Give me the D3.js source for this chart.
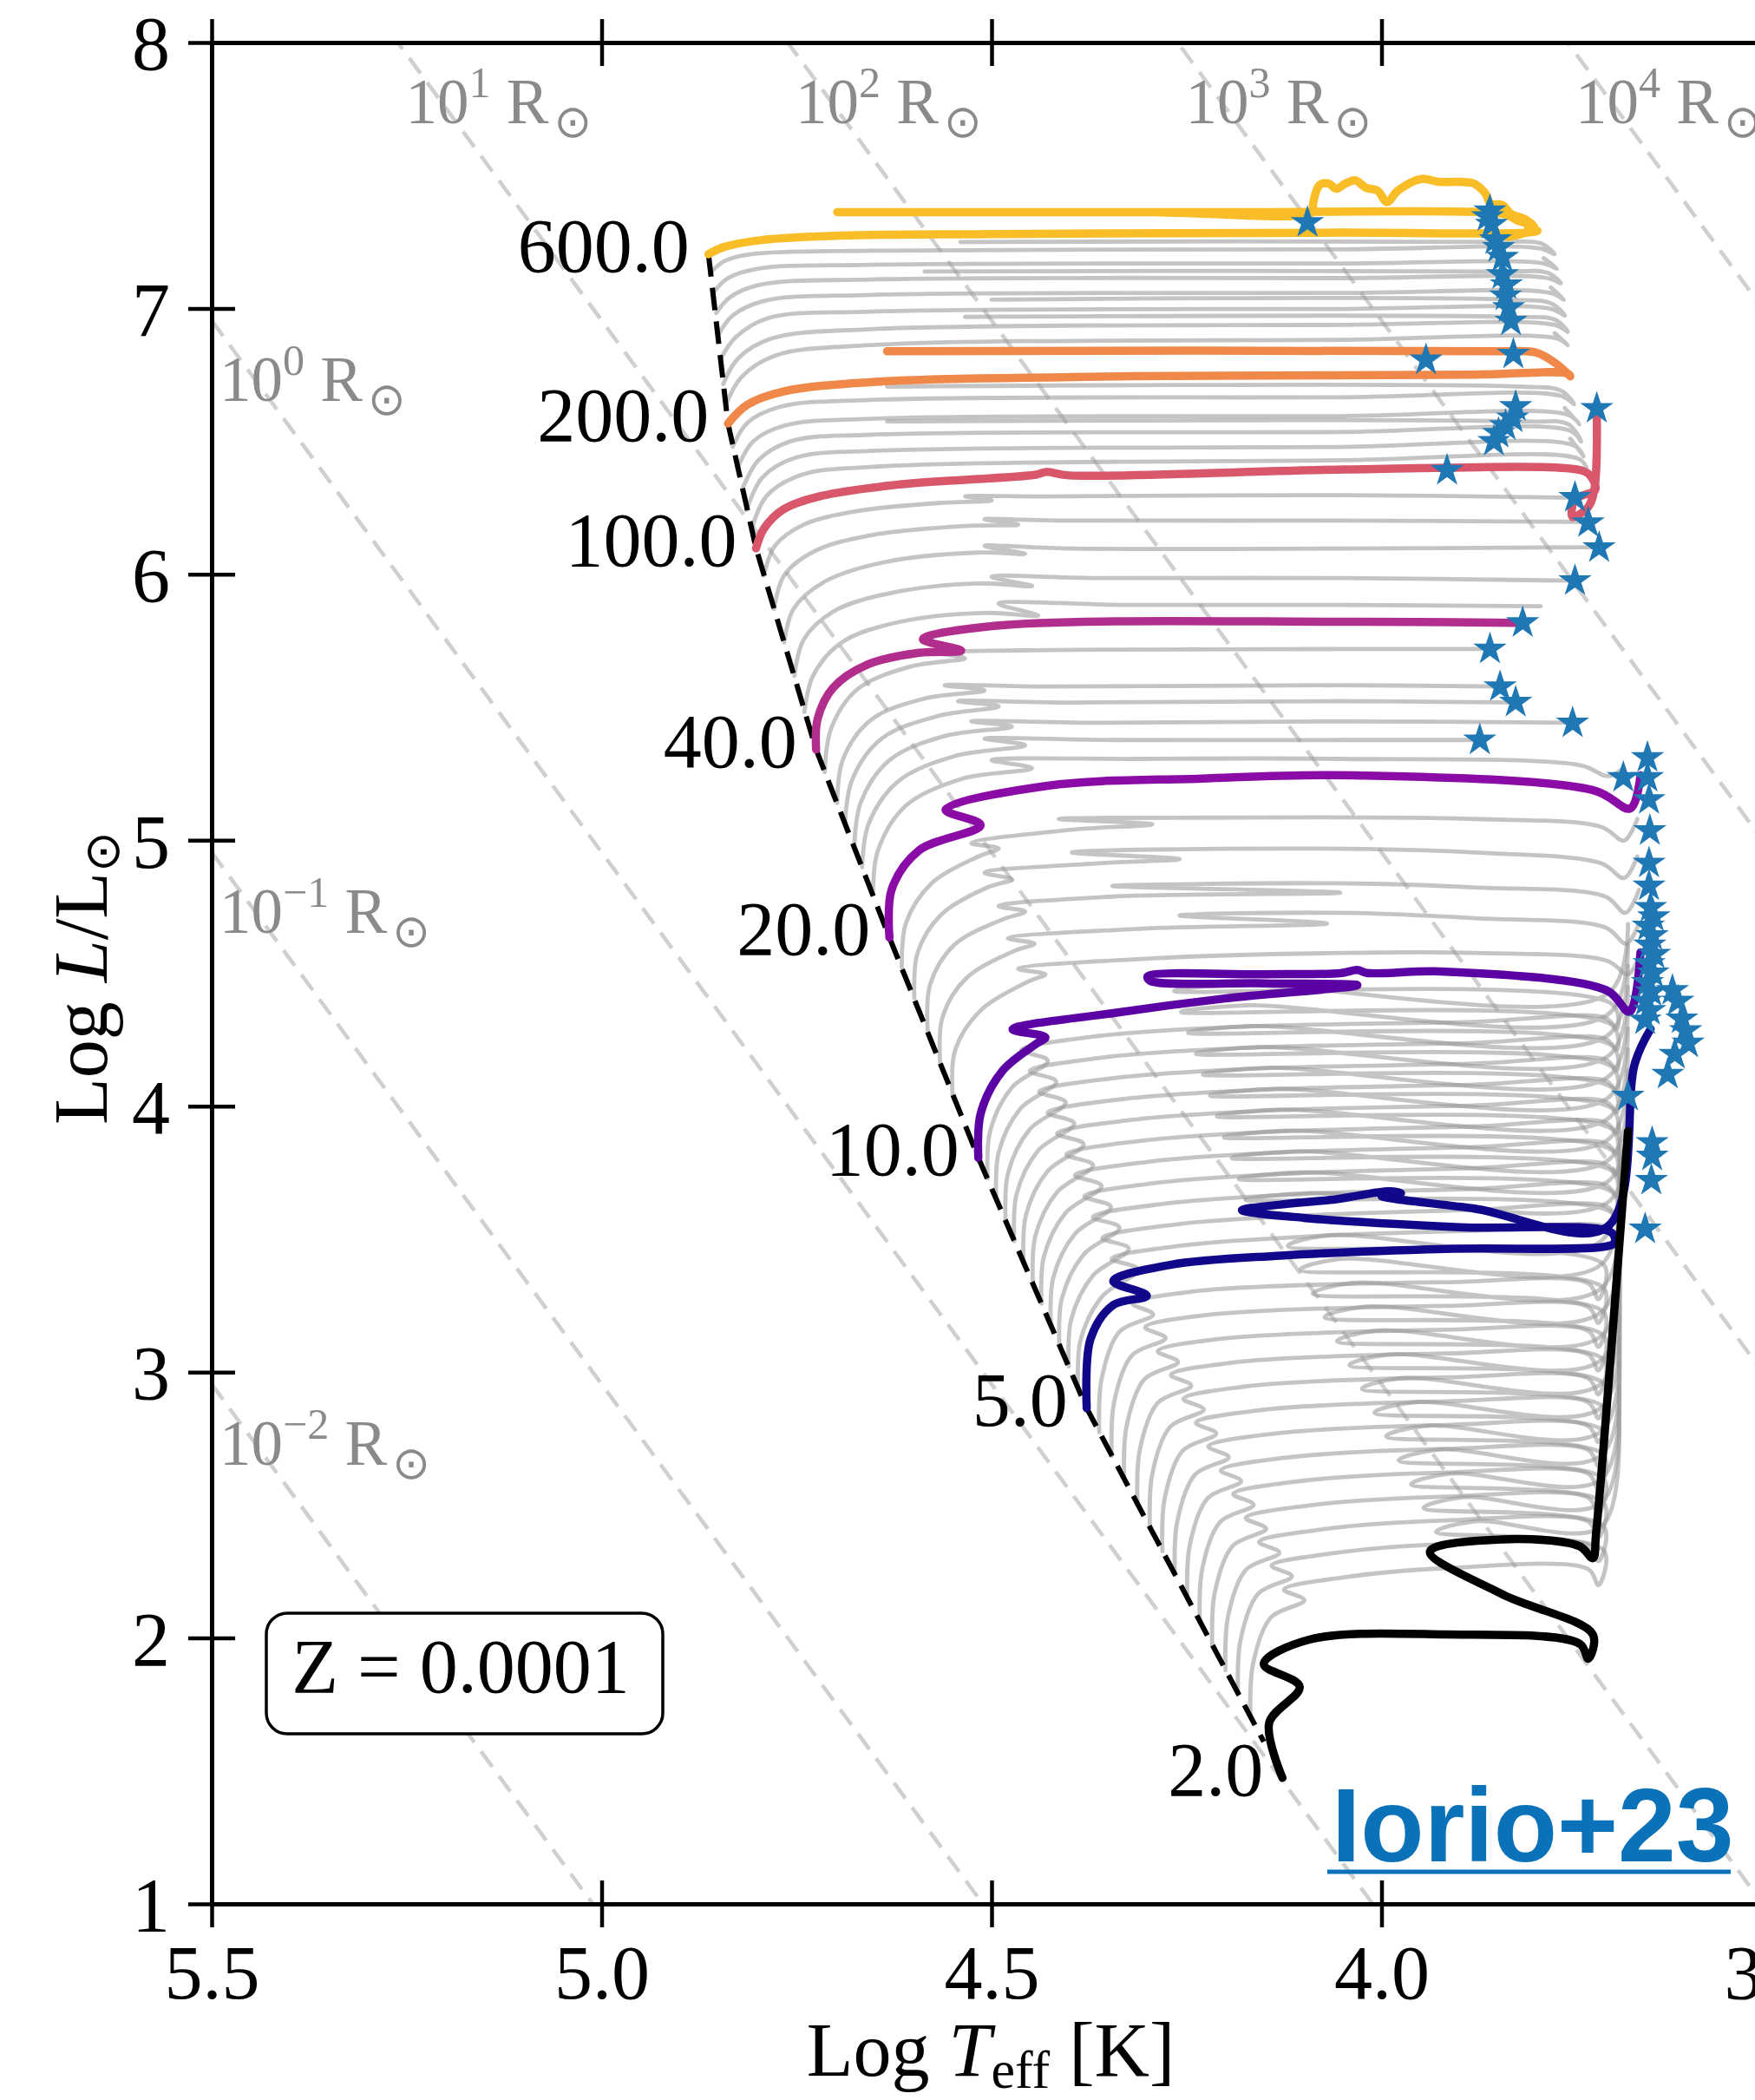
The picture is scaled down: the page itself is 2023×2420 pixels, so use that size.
<!DOCTYPE html>
<html>
<head>
<meta charset="utf-8">
<script src="https://cdn.jsdelivr.net/npm/d3@7"></script>
<style>
body { margin: 0; background: #fff; }
</style>
</head>
<body>
<svg width="2023" height="2420"></svg>
<script>
// **** Data: [log Teff, log L] ****
var xTicks = [5.5, 5.0, 4.5, 4.0, 3.5];
var yTicks = [1, 2, 3, 4, 5, 6, 7, 8];
var radiusPowers = [-2, -1, 0, 1, 2, 3, 4];
var massLabels = ["600.0", "200.0", "100.0", "40.0", "20.0", "10.0", "5.0", "2.0"];
var massColors = ["#f8bd27", "#ef8848", "#d8576b", "#b22e8c", "#8a0ba6", "#5a02a3", "#10078a", "#000000"];

var track600 = [[4.863,7.204],[4.843,7.231],[4.793,7.258],[4.694,7.274],[4.495,7.280],[4.053,7.285],[3.813,7.285],[3.800,7.292],[3.812,7.300],[3.805,7.310],[3.825,7.330],[3.840,7.352],[3.870,7.362],[4.200,7.362],[4.698,7.362],[4.300,7.362],[4.088,7.362],[4.088,7.389],[4.079,7.465],[4.068,7.470],[4.058,7.450],[4.046,7.470],[4.034,7.482],[4.020,7.454],[4.005,7.443],[3.993,7.400],[3.979,7.443],[3.949,7.487],[3.927,7.476],[3.901,7.476],[3.882,7.470],[3.867,7.433],[3.860,7.394],[3.845,7.389],[3.834,7.356],[3.815,7.334],[3.804,7.302],[3.812,7.287],[3.838,7.269]];
var track200 = [[4.838,6.567],[4.813,6.638],[4.768,6.687],[4.644,6.725],[4.396,6.742],[4.213,6.747],[3.881,6.751],[3.761,6.755],[3.758,6.745],[3.775,6.790],[3.802,6.834],[3.850,6.839],[4.634,6.839]];
var track100 = [[4.802,6.098],[4.792,6.171],[4.767,6.244],[4.718,6.295],[4.618,6.338],[4.443,6.375],[4.430,6.385],[4.400,6.372],[4.046,6.394],[3.744,6.391],[3.732,6.370],[3.726,6.318],[3.752,6.282],[3.755,6.216],[3.735,6.253],[3.727,6.323],[3.724,6.617]];
var track40 = [[4.725,5.341],[4.723,5.457],[4.703,5.574],[4.658,5.662],[4.593,5.705],[4.539,5.713],[4.588,5.756],[4.494,5.807],[4.046,5.822],[3.828,5.818]];
var track20 = [[4.631,4.634],[4.628,4.816],[4.593,4.962],[4.514,5.057],[4.559,5.115],[4.428,5.205],[4.231,5.232],[4.036,5.244],[3.726,5.186],[3.681,5.120],[3.668,5.244]];
var track10 = [[4.517,3.806],[4.514,3.972],[4.486,4.133],[4.443,4.234],[4.431,4.259],[4.473,4.289],[4.344,4.350],[4.201,4.405],[4.031,4.455],[4.150,4.462],[4.297,4.472],[4.300,4.488],[4.150,4.496],[4.053,4.500],[4.031,4.512],[4.019,4.501],[3.918,4.506],[3.711,4.435],[3.682,4.355],[3.668,4.578]];
var track5 = [[4.378,2.864],[4.373,3.126],[4.344,3.252],[4.301,3.287],[4.344,3.342],[4.271,3.403],[4.129,3.438],[3.918,3.463],[3.711,3.473],[3.701,3.488],[3.705,3.524],[3.900,3.545],[4.100,3.580],[4.179,3.609],[4.129,3.630],[4.058,3.650],[3.990,3.680],[3.975,3.672],[4.000,3.662],[3.881,3.615],[3.711,3.545],[3.675,4.163],[3.655,4.290]];
var track2 = [[4.127,1.474],[4.144,1.681],[4.105,1.817],[4.151,1.902],[4.094,1.993],[3.918,2.013],[3.746,1.978],[3.735,1.922],[3.729,2.013],[3.845,2.164],[3.938,2.325],[3.845,2.371],[3.746,2.345],[3.729,2.300],[3.725,2.391],[3.684,3.906]];

var zamsLine = [[4.863,7.204],[4.838,6.567],[4.802,6.098],[4.725,5.341],[4.631,4.634],[4.517,3.806],[4.378,2.864],[4.151,1.610]];

var grayTracksTop = [
  [[4.859,7.139],[4.842,7.179],[4.808,7.204],[4.655,7.217],[4.053,7.222],[3.796,7.225],[3.778,7.204],[3.796,7.245],[3.847,7.250],[4.540,7.250]],
  [[4.856,7.063],[4.838,7.114],[4.801,7.149],[4.655,7.164],[4.053,7.169],[3.792,7.169],[3.775,7.149],[3.792,7.189]],
  [[4.853,6.983],[4.835,7.043],[4.797,7.089],[4.655,7.109],[4.053,7.114],[3.787,7.114],[3.770,7.094],[3.787,7.134],[3.838,7.139],[4.586,7.139]],
  [[4.850,6.902],[4.832,6.973],[4.792,7.028],[4.655,7.051],[4.053,7.058],[3.783,7.058],[3.766,7.033],[3.783,7.079]],
  [[4.847,6.812],[4.828,6.892],[4.787,6.963],[4.655,6.988],[4.053,6.998],[3.782,6.998],[3.765,6.973],[3.782,7.018],[3.833,7.033],[4.500,7.033]],
  [[4.844,6.716],[4.825,6.812],[4.782,6.887],[4.655,6.922],[4.053,6.938],[3.778,6.938],[3.761,6.912],[3.778,6.958],[3.830,6.968],[4.534,6.968]],
  [[4.841,6.635],[4.821,6.741],[4.778,6.822],[4.655,6.862],[4.053,6.882],[3.775,6.887],[3.761,6.862],[3.778,6.907]],
  [[4.832,6.479],[4.813,6.570],[4.771,6.630],[4.655,6.656],[4.053,6.666],[3.770,6.671],[3.753,6.640],[3.770,6.691],[3.821,6.706],[4.634,6.706]],
  [[4.826,6.399],[4.806,6.499],[4.765,6.560],[4.655,6.585],[4.053,6.595],[3.761,6.600],[3.746,6.565],[3.765,6.625]],
  [[4.820,6.318],[4.799,6.429],[4.758,6.500],[4.655,6.525],[4.053,6.535],[3.758,6.540],[3.744,6.500],[3.761,6.565],[3.813,6.575],[4.634,6.575]],
  [[4.814,6.243],[4.794,6.364],[4.751,6.439],[4.655,6.464],[4.053,6.479],[3.753,6.484],[3.741,6.444],[3.758,6.510]],
  [[4.808,6.167],[4.789,6.293],[4.744,6.374],[4.655,6.404],[4.053,6.429],[3.747,6.434],[3.737,6.399]]
];

var grayTracksMiddle = [
  [[4.792,5.996],[4.778,6.107],[4.741,6.187],[4.672,6.238],[4.569,6.268],[4.500,6.278],[4.534,6.293],[4.431,6.293],[4.053,6.298],[3.747,6.288]],
  [[4.779,5.870],[4.766,5.996],[4.727,6.087],[4.655,6.147],[4.534,6.182],[4.466,6.187],[4.509,6.207],[4.414,6.202],[4.053,6.202],[3.734,6.197]],
  [[4.766,5.744],[4.754,5.870],[4.715,5.971],[4.637,6.046],[4.517,6.082],[4.457,6.077],[4.509,6.107],[4.397,6.097],[4.053,6.097],[3.722,6.102]],
  [[4.753,5.618],[4.741,5.754],[4.703,5.860],[4.629,5.930],[4.517,5.966],[4.448,5.956],[4.500,5.991],[4.363,5.986],[4.053,5.986],[3.753,5.976]],
  [[4.740,5.482],[4.729,5.618],[4.692,5.744],[4.620,5.820],[4.509,5.855],[4.440,5.845],[4.491,5.890],[4.328,5.885],[4.053,5.885],[3.796,5.880]],
  [[4.714,5.256],[4.706,5.418],[4.672,5.568],[4.603,5.654],[4.534,5.684],[4.569,5.704],[4.466,5.714],[4.053,5.719],[3.861,5.719]],
  [[4.698,5.140],[4.691,5.301],[4.655,5.452],[4.586,5.533],[4.509,5.563],[4.560,5.583],[4.431,5.578],[4.053,5.583],[3.847,5.578]],
  [[4.688,5.065],[4.679,5.226],[4.641,5.382],[4.569,5.467],[4.491,5.503],[4.543,5.523],[4.397,5.518],[4.053,5.523],[3.828,5.518]],
  [[4.676,4.979],[4.668,5.140],[4.631,5.301],[4.560,5.392],[4.474,5.427],[4.526,5.447],[4.363,5.442],[4.053,5.447],[3.754,5.442]],
  [[4.666,4.898],[4.658,5.059],[4.620,5.221],[4.548,5.316],[4.457,5.357],[4.509,5.382],[4.345,5.377],[4.053,5.377],[3.875,5.377]],
  [[4.652,4.798],[4.646,4.959],[4.610,5.130],[4.538,5.231],[4.448,5.271],[4.500,5.301],[4.318,5.306],[4.053,5.306],[3.744,5.281],[3.710,5.241],[3.692,5.266]]
];

var grayTracksCross = [
  [[4.615,4.521],[4.610,4.687],[4.577,4.838],[4.517,4.939],[4.491,4.969],[4.526,4.989],[4.397,5.040],[4.294,5.060],[4.414,5.080],[4.225,5.085],[3.881,5.080],[3.718,5.050],[3.689,4.999],[3.672,5.080]],
  [[4.599,4.405],[4.595,4.576],[4.564,4.722],[4.505,4.823],[4.474,4.853],[4.509,4.878],[4.363,4.913],[4.259,4.929],[4.397,4.954],[4.122,4.969],[3.881,4.954],[3.718,4.913],[3.689,4.858],[3.672,4.939]],
  [[4.582,4.284],[4.579,4.455],[4.548,4.606],[4.486,4.702],[4.457,4.732],[4.491,4.752],[4.345,4.788],[4.053,4.803],[4.345,4.828],[4.053,4.838],[3.881,4.823],[3.713,4.788],[3.687,4.727],[3.670,4.813]],
  [[4.566,4.163],[4.563,4.334],[4.531,4.485],[4.469,4.586],[4.445,4.611],[4.479,4.631],[4.311,4.667],[4.070,4.687],[4.259,4.717],[4.053,4.727],[3.881,4.707],[3.713,4.672],[3.686,4.611],[3.670,4.687]],
  [[4.550,4.042],[4.547,4.208],[4.514,4.360],[4.452,4.470],[4.431,4.496],[4.466,4.516],[4.294,4.556],[4.053,4.576],[3.881,4.576],[3.710,4.546],[3.684,4.496],[3.668,4.576]]
];

var grayTracksInter = [
  [[4.505,3.728],[4.502,3.904],[4.474,4.070],[4.428,4.171],[4.462,4.211],[4.368,4.262],[4.196,4.297],[3.881,4.317],[3.713,4.332],[3.698,4.292],[3.704,4.383],[4.266,4.433],[4.186,4.458],[3.710,4.423],[3.684,4.685]],
  [[4.494,3.649],[4.491,3.825],[4.463,3.991],[4.417,4.092],[4.451,4.132],[4.357,4.183],[4.185,4.218],[3.881,4.238],[3.713,4.253],[3.698,4.213],[3.704,4.304],[4.257,4.354],[4.177,4.379],[3.710,4.344],[3.684,4.606]],
  [[4.482,3.571],[4.479,3.747],[4.451,3.913],[4.405,4.014],[4.439,4.054],[4.345,4.105],[4.173,4.140],[3.881,4.160],[3.713,4.175],[3.698,4.135],[3.704,4.226],[4.248,4.276],[4.168,4.301],[3.710,4.266],[3.684,4.528]],
  [[4.471,3.492],[4.468,3.668],[4.440,3.834],[4.394,3.935],[4.428,3.975],[4.334,4.026],[4.162,4.061],[3.881,4.081],[3.713,4.096],[3.698,4.056],[3.704,4.147],[4.238,4.197],[4.158,4.222],[3.710,4.187],[3.684,4.449]],
  [[4.459,3.414],[4.456,3.590],[4.428,3.756],[4.382,3.857],[4.416,3.897],[4.322,3.948],[4.150,3.983],[3.881,4.003],[3.713,4.018],[3.698,3.978],[3.704,4.069],[4.229,4.119],[4.149,4.144],[3.710,4.109],[3.684,4.371]],
  [[4.447,3.335],[4.444,3.511],[4.416,3.677],[4.370,3.778],[4.404,3.818],[4.310,3.869],[4.138,3.904],[3.881,3.924],[3.713,3.939],[3.698,3.899],[3.704,3.990],[4.220,4.040],[4.140,4.065],[3.710,4.030],[3.684,4.292]],
  [[4.436,3.257],[4.433,3.433],[4.405,3.599],[4.359,3.700],[4.393,3.740],[4.299,3.791],[4.127,3.826],[3.881,3.846],[3.713,3.861],[3.698,3.821],[3.704,3.912],[4.211,3.962],[4.131,3.987],[3.710,3.952],[3.684,4.214]],
  [[4.424,3.178],[4.421,3.354],[4.393,3.520],[4.347,3.621],[4.381,3.661],[4.287,3.712],[4.115,3.747],[3.881,3.767],[3.713,3.782],[3.698,3.742],[3.704,3.833],[4.202,3.883],[4.122,3.908],[3.710,3.873],[3.684,4.135]],
  [[4.413,3.100],[4.410,3.276],[4.382,3.442],[4.336,3.543],[4.370,3.583],[4.276,3.634],[4.104,3.669],[3.881,3.689],[3.713,3.704],[3.698,3.664],[3.704,3.755],[4.192,3.805],[4.112,3.830],[3.710,3.795],[3.684,4.057]],
  [[4.401,3.021],[4.398,3.197],[4.370,3.363],[4.324,3.464],[4.358,3.504],[4.264,3.555],[4.092,3.590],[3.881,3.610],[3.713,3.625],[3.698,3.585],[3.704,3.676],[4.183,3.726],[4.103,3.751],[3.710,3.716],[3.684,3.978]],
  [[4.389,2.943],[4.386,3.119],[4.358,3.285],[4.312,3.386],[4.346,3.426],[4.252,3.477],[4.080,3.512],[3.881,3.532],[3.713,3.547],[3.698,3.507],[3.704,3.598],[4.174,3.648],[4.094,3.673],[3.710,3.638],[3.684,3.900]]
];

var grayTracksLow = [
  [[4.362,2.774],[4.359,2.974],[4.336,3.152],[4.293,3.217],[4.319,3.257],[4.242,3.303],[3.916,3.338],[3.735,3.334],[3.722,3.274],[3.715,3.404],[4.120,3.474],[4.070,3.514],[3.718,3.494],[3.696,3.934]],
  [[4.346,2.685],[4.343,2.885],[4.320,3.063],[4.277,3.128],[4.303,3.168],[4.226,3.214],[3.916,3.249],[3.735,3.245],[3.722,3.185],[3.715,3.315],[4.104,3.385],[4.054,3.425],[3.718,3.405],[3.696,3.845]],
  [[4.330,2.595],[4.327,2.795],[4.304,2.973],[4.261,3.038],[4.287,3.078],[4.210,3.124],[3.916,3.159],[3.735,3.155],[3.722,3.095],[3.715,3.225],[4.088,3.295],[4.038,3.335],[3.718,3.315],[3.696,3.755]],
  [[4.313,2.506],[4.310,2.706],[4.287,2.884],[4.244,2.949],[4.270,2.989],[4.193,3.035],[3.916,3.070],[3.735,3.066],[3.722,3.006],[3.715,3.136],[4.073,3.206],[4.023,3.246],[3.718,3.226],[3.696,3.666]],
  [[4.297,2.416],[4.294,2.616],[4.271,2.794],[4.228,2.859],[4.254,2.899],[4.177,2.945],[3.916,2.980],[3.735,2.976],[3.722,2.916],[3.715,3.046],[4.057,3.116],[4.007,3.156],[3.718,3.136],[3.696,3.576]],
  [[4.281,2.326],[4.278,2.526],[4.255,2.704],[4.212,2.769],[4.238,2.809],[4.161,2.855],[3.916,2.890],[3.735,2.886],[3.722,2.826],[3.715,2.956],[4.041,3.026],[3.991,3.066],[3.718,3.046],[3.696,3.486]],
  [[4.265,2.237],[4.262,2.437],[4.239,2.615],[4.196,2.680],[4.222,2.720],[4.145,2.766],[3.916,2.801],[3.735,2.797],[3.722,2.737],[3.715,2.867],[4.025,2.937],[3.975,2.977],[3.718,2.957],[3.696,3.397]],
  [[4.249,2.147],[4.246,2.347],[4.223,2.525],[4.180,2.590],[4.206,2.630],[4.129,2.676],[3.916,2.711],[3.735,2.707],[3.722,2.647],[3.715,2.777],[4.009,2.847],[3.959,2.887],[3.718,2.867],[3.696,3.307]],
  [[4.233,2.058],[4.230,2.258],[4.207,2.436],[4.164,2.501],[4.190,2.541],[4.113,2.587],[3.916,2.622],[3.735,2.618],[3.722,2.558],[3.715,2.688],[3.994,2.758],[3.944,2.798],[3.718,2.778],[3.696,3.218]],
  [[4.217,1.968],[4.214,2.168],[4.191,2.346],[4.148,2.411],[4.174,2.451],[4.097,2.497],[3.916,2.532],[3.735,2.528],[3.722,2.468],[3.715,2.598],[3.978,2.668],[3.928,2.708],[3.718,2.688],[3.696,3.128]],
  [[4.200,1.878],[4.197,2.078],[4.174,2.256],[4.131,2.321],[4.157,2.361],[4.080,2.407],[3.916,2.442],[3.735,2.438],[3.722,2.378],[3.715,2.508],[3.962,2.578],[3.912,2.618],[3.718,2.598],[3.696,3.038]],
  [[4.184,1.789],[4.181,1.989],[4.158,2.167],[4.115,2.232],[4.141,2.272],[4.064,2.318],[3.916,2.353],[3.735,2.349],[3.722,2.289],[3.715,2.419],[3.946,2.489],[3.896,2.529],[3.718,2.509],[3.696,2.949]],
  [[4.168,1.699],[4.165,1.899],[4.142,2.077],[4.099,2.142],[4.125,2.182],[4.048,2.228],[3.916,2.263],[3.735,2.259],[3.722,2.199],[3.715,2.329],[3.930,2.399],[3.880,2.439],[3.718,2.419],[3.696,2.859]]
];

var starPoints = [[4.095,7.323],[3.861,7.367],[3.864,7.345],[3.859,7.316],[3.854,7.258],[3.850,7.229],[3.845,7.192],[3.845,7.127],[3.840,7.089],[3.841,7.047],[3.837,7.003],[3.834,6.952],[3.831,6.828],[3.943,6.806],
  [3.724,6.624],[3.828,6.631],[3.832,6.588],[3.841,6.559],[3.850,6.530],[3.856,6.500],[3.916,6.391],[3.752,6.289],[3.735,6.194],[3.721,6.100],[3.752,5.976],
  [3.819,5.818],[3.861,5.719],[3.848,5.577],[3.828,5.519],[3.755,5.441],[3.874,5.377],[3.690,5.236],[3.659,5.311],[3.659,5.236],[3.657,5.153],[3.656,5.036],[3.657,4.914],[3.657,4.828],
  [3.655,4.747],[3.651,4.712],[3.658,4.677],[3.653,4.641],[3.656,4.606],[3.650,4.571],[3.657,4.536],[3.652,4.501],[3.659,4.465],[3.654,4.430],[3.661,4.395],[3.656,4.360],[3.662,4.324],
  [3.627,4.435],[3.620,4.395],[3.615,4.328],[3.610,4.284],[3.607,4.237],[3.624,4.195],[3.633,4.120],[3.684,4.037],[3.653,3.863],[3.653,3.812],[3.654,3.721],[3.662,3.538]];

var massTracks = [track600, track200, track100, track40, track20, track10, track5, track2];

// **** Scales, clip and helpers ****
var serif = '"Liberation Serif", "Times New Roman", serif';
var svg = d3.select('svg').attr('font-family', serif);

var xScale = d3.scaleLinear().domain([5.5, 3.5]).range([244, 2042]);
var yScale = d3.scaleLinear().domain([1, 8]).range([2194, 49]);

var trackLine = d3.line()
    .x(function (d) { return xScale(d[0]); })
    .y(function (d) { return yScale(d[1]); })
    .curve(d3.curveCatmullRom.alpha(0.5));

var straightLine = d3.line()
    .x(function (d) { return xScale(d[0]); })
    .y(function (d) { return yScale(d[1]); });

svg.append('clipPath').attr('id', 'plotArea').append('rect')
    .attr('x', 244).attr('y', 49).attr('width', 1798).attr('height', 2145);

var plot = svg.append('g').attr('clip-path', 'url(#plotArea)');

// **** Constant radius lines (L = 4 pi R^2 sigma T^4, Teff_sun = 5772 K) ****
var logTsun = Math.log10(5772);
radiusPowers.forEach(function (p) {
    var ends = [[5.5, 2 * p + 4 * (5.5 - logTsun)], [3.5, 2 * p + 4 * (3.5 - logTsun)]];
    plot.append('path')
        .attr('d', straightLine(ends))
        .attr('fill', 'none')
        .attr('stroke', '#cfcfcf')
        .attr('stroke-width', 4.5)
        .attr('stroke-dasharray', '22,13');

    var tTop = (8 - 2 * p) / 4 + logTsun;
    var ax, ay;
    if (tTop <= 5.5) { ax = xScale(tTop); ay = yScale(8); }
    else { ax = xScale(5.5); ay = yScale(ends[0][1]); }

    var lab = plot.append('text')
        .attr('x', ax + 9).attr('y', ay + 93)
        .attr('font-size', 73).attr('fill', '#8a8a8a');
    lab.append('tspan').text('10');
    lab.append('tspan').attr('font-size', 50).attr('dy', -30).text(p < 0 ? '\u2212' + (-p) : String(p));
    lab.append('tspan').attr('dy', 30).text(' R');
    lab.append('tspan').attr('font-size', 52).attr('dy', 16).attr('dx', 6)
        .attr('font-family', '"DejaVu Sans", sans-serif').text('\u2299');
});

// **** Grey tracks ****
[grayTracksTop, grayTracksMiddle, grayTracksCross, grayTracksInter, grayTracksLow].forEach(function (group) {
    group.forEach(function (t) {
        plot.append('path')
            .attr('d', trackLine(t))
            .attr('fill', 'none')
            .attr('stroke', '#9a9a9a')
            .attr('stroke-opacity', 0.58)
            .attr('stroke-width', 4.8)
            .attr('stroke-linejoin', 'round')
            .attr('stroke-linecap', 'round');
    });
});

// **** ZAMS ****
plot.append('path')
    .attr('d', straightLine(zamsLine))
    .attr('fill', 'none')
    .attr('stroke', '#000')
    .attr('stroke-width', 6)
    .attr('stroke-dasharray', '26,13');

// **** Highlighted tracks ****
massTracks.forEach(function (t, i) {
    plot.append('path')
        .attr('d', trackLine(t))
        .attr('fill', 'none')
        .attr('stroke', massColors[i])
        .attr('stroke-width', 9.5)
        .attr('stroke-linejoin', 'round')
        .attr('stroke-linecap', 'round');
});

// **** Stars ****
var star = d3.symbol().type(d3.symbolStar).size(460);
starPoints.forEach(function (s) {
    plot.append('path')
        .attr('d', star())
        .attr('transform', 'translate(' + xScale(s[0]) + ',' + yScale(s[1]) + ')')
        .attr('fill', '#1f77b4');
});

// **** Mass labels ****
massTracks.forEach(function (t, i) {
    svg.append('text')
        .attr('x', xScale(t[0][0]) - 22)
        .attr('y', yScale(t[0][1]) + 20)
        .attr('text-anchor', 'end')
        .attr('font-size', 88)
        .text(massLabels[i]);
});

// **** Axes ****
function styleAxis(g) {
    g.attr('font-size', 88).attr('font-family', serif);
    g.select('.domain').attr('stroke', '#000').attr('stroke-width', 5);
    g.selectAll('.tick line').attr('stroke', '#000').attr('stroke-width', 4.5);
    g.selectAll('.tick text').attr('fill', '#000');
}

var xAxis = svg.append('g').attr('transform', 'translate(0,2194)')
    .call(d3.axisBottom(xScale).tickValues(xTicks).tickFormat(d3.format('.1f'))
        .tickSize(27).tickPadding(20).tickSizeOuter(0));
xAxis.selectAll('.tick line').attr('y1', -27);
styleAxis(xAxis);

var topAxis = svg.append('g').attr('transform', 'translate(0,49)')
    .call(d3.axisTop(xScale).tickValues(xTicks).tickFormat('').tickSize(27).tickSizeOuter(0));
topAxis.selectAll('.tick line').attr('y1', 27);
styleAxis(topAxis);

var yAxis = svg.append('g').attr('transform', 'translate(244,0)')
    .call(d3.axisLeft(yScale).tickValues(yTicks).tickFormat(d3.format('d'))
        .tickSize(27).tickPadding(21).tickSizeOuter(0));
yAxis.selectAll('.tick line').attr('x1', 27);
yAxis.selectAll('.tick text').attr('dy', '0.35em');
styleAxis(yAxis);

// **** Axis labels ****
var xLabel = svg.append('text')
    .attr('x', 1142).attr('y', 2392)
    .attr('text-anchor', 'middle').attr('font-size', 88);
xLabel.append('tspan').text('Log ');
xLabel.append('tspan').attr('font-style', 'italic').text('T');
xLabel.append('tspan').attr('font-size', 62).attr('dy', 14).text('eff');
xLabel.append('tspan').attr('dy', -14).text(' [K]');

var yLabel = svg.append('text')
    .attr('transform', 'translate(123,1127) rotate(-90)')
    .attr('text-anchor', 'middle').attr('font-size', 88);
yLabel.append('tspan').text('Log ');
yLabel.append('tspan').attr('font-style', 'italic').text('L');
yLabel.append('tspan').text('/L');
yLabel.append('tspan').attr('font-size', 56).attr('dy', 14)
    .attr('font-family', '"DejaVu Sans", sans-serif').text('\u2299');

// **** Metallicity box ****
svg.append('rect')
    .attr('x', 307).attr('y', 1859).attr('width', 457).attr('height', 139)
    .attr('rx', 24).attr('ry', 24)
    .attr('fill', '#fff').attr('stroke', '#000').attr('stroke-width', 3.5);
svg.append('text')
    .attr('x', 531).attr('y', 1950)
    .attr('text-anchor', 'middle').attr('font-size', 88)
    .text('Z = 0.0001');

// **** Reference tag ****
svg.append('text')
    .attr('x', 1535).attr('y', 2145)
    .attr('font-family', '"Liberation Sans", Arial, sans-serif')
    .attr('font-weight', 'bold').attr('font-size', 120)
    .attr('fill', '#0a72b8')
    .text('Iorio+23');
svg.append('line')
    .attr('x1', 1530).attr('x2', 1995).attr('y1', 2157).attr('y2', 2157)
    .attr('stroke', '#0a72b8').attr('stroke-width', 5);
</script>
</body>
</html>
